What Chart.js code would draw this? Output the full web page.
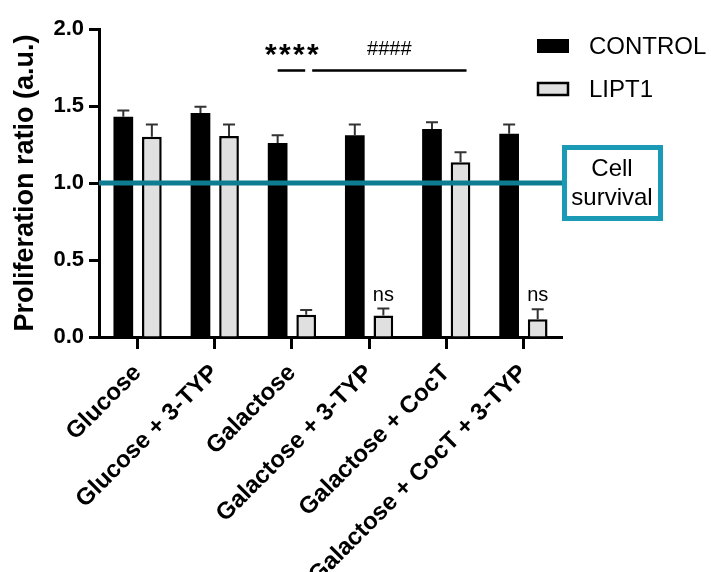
<!DOCTYPE html>
<html>
<head>
<meta charset="utf-8">
<script src="https://cdn.jsdelivr.net/npm/chart.js@4.4.0/dist/chart.umd.min.js"></script>
<style>
  body { margin: 0; background: #fff; }
  #wrap { width: 711px; height: 572px; }
</style>
</head>
<body>
<div id="wrap"><canvas id="myChart" width="711" height="572"></canvas></div>
<script>
var categories = ["Glucose", "Glucose + 3-TYP", "Galactose", "Galactose + 3-TYP", "Galactose + CocT", "Galactose + CocT + 3-TYP"];
var control = [1.43, 1.455, 1.26, 1.31, 1.35, 1.32];
var controlErr = [0.04, 0.04, 0.05, 0.07, 0.045, 0.06];
var lipt1 = [1.30, 1.305, 0.145, 0.14, 1.135, 0.115];
var lipt1Err = [0.08, 0.075, 0.03, 0.045, 0.065, 0.065];
var nsIndex = [3, 5];
var survivalLevel = 1.0;
var sigLevel = 1.73;

var FONT = "'Liberation Sans', Arial, sans-serif";

var extras = {
  id: 'extras',
  afterDatasetsDraw: function (chart) {
    var c = chart.ctx;
    var y = chart.scales.y;
    var area = chart.chartArea;
    var m0 = chart.getDatasetMeta(0).data;
    var m1 = chart.getDatasetMeta(1).data;
    c.save();

    // error bars
    c.strokeStyle = '#333';
    c.lineWidth = 2;
    [[m0, control, controlErr], [m1, lipt1, lipt1Err]].forEach(function (s) {
      s[0].forEach(function (bar, i) {
        var top = y.getPixelForValue(s[1][i] + s[2][i]);
        var base = y.getPixelForValue(s[1][i]);
        c.beginPath();
        c.moveTo(bar.x, base);
        c.lineTo(bar.x, top);
        c.moveTo(bar.x - 6, top);
        c.lineTo(bar.x + 6, top);
        c.stroke();
      });
    });

    // cell survival line + box
    var ly = y.getPixelForValue(survivalLevel);
    c.strokeStyle = '#0e7d92';
    c.lineWidth = 5;
    c.beginPath();
    c.moveTo(area.left, ly);
    c.lineTo(area.right, ly);
    c.stroke();
    c.strokeStyle = '#1b9ab5';
    c.lineWidth = 5;
    c.strokeRect(area.right + 2.5, 147.5, 96, 71);
    c.fillStyle = '#000';
    c.font = '24px ' + FONT;
    c.textAlign = 'center';
    c.textBaseline = 'middle';
    c.fillText('Cell', area.right + 50, 169);
    c.fillText('survival', area.right + 50, 198);

    // significance
    var sy = y.getPixelForValue(sigLevel);
    c.strokeStyle = '#000';
    c.lineWidth = 2.5;
    c.beginPath();
    c.moveTo(m0[2].x, sy);
    c.lineTo(m1[2].x - 1, sy);
    c.moveTo(m1[2].x + 6, sy);
    c.lineTo(m1[4].x + 6, sy);
    c.stroke();
    c.font = 'bold 30px ' + FONT;
    var sx = (m0[2].x + m1[2].x) / 2;
    for (var k = 0; k < 4; k++) {
      c.fillText('*', sx - 21 + k * 14, 56);
    }
    c.font = '20px ' + FONT;
    c.fillText('####', (m1[2].x + m1[4].x) / 2 + 6, 49);
    nsIndex.forEach(function (i) {
      c.fillText('ns', m1[i].x, 295);
    });

    // legend
    c.fillStyle = '#000';
    c.fillRect(537, 39, 32, 14);
    c.fillStyle = '#e0e0e0';
    c.fillRect(538, 83, 30, 12);
    c.strokeStyle = '#000';
    c.lineWidth = 2.5;
    c.strokeRect(538, 83, 30, 12);
    c.fillStyle = '#000';
    c.font = '24px ' + FONT;
    c.textAlign = 'left';
    c.fillText('CONTROL', 589, 47);
    c.fillText('LIPT1', 589, 90);
    c.restore();
  }
};

var ctx = document.getElementById('myChart').getContext('2d');
var myChart = new Chart(ctx, {
  type: 'bar',
  data: {
    labels: categories,
    datasets: [{
      label: 'CONTROL',
      data: control,
      backgroundColor: '#000',
      borderWidth: 0,
      barPercentage: 0.69,
      categoryPercentage: 0.74
    }, {
      label: 'LIPT1',
      data: lipt1,
      backgroundColor: '#e0e0e0',
      borderColor: '#000',
      borderWidth: 2.5,
      barPercentage: 0.69,
      categoryPercentage: 0.74
    }]
  },
  options: {
    responsive: false,
    animation: false,
    layout: { padding: { top: 29, right: 149, left: 8, bottom: 0 } },
    plugins: {
      legend: { display: false },
      tooltip: { enabled: false }
    },
    scales: {
      x: {
        grid: { offset: false, drawOnChartArea: false, tickLength: 12, tickWidth: 3, tickColor: '#000' },
        border: { color: '#000', width: 3 },
        ticks: {
          autoSkip: false,
          maxRotation: 45,
          minRotation: 45,
          color: '#000',
          padding: 10,
          font: { family: FONT, size: 24, weight: 'bold' }
        },
        afterFit: function (s) { s.height = 235; }
      },
      y: {
        min: 0,
        max: 2,
        grid: { drawOnChartArea: false, tickLength: 10, tickWidth: 3, tickColor: '#000' },
        border: { color: '#000', width: 3 },
        ticks: {
          stepSize: 0.5,
          color: '#000',
          padding: 5,
          font: { family: FONT, size: 22, weight: 'bold' },
          callback: function (v) { return v.toFixed(1); }
        },
        title: {
          display: true,
          text: 'Proliferation ratio (a.u.)',
          color: '#000',
          padding: { top: 1, bottom: 0 },
          font: { family: FONT, size: 27, weight: 'bold' }
        },
        afterFit: function (s) { s.width = 91; }
      }
    }
  },
  plugins: [extras]
});
</script>
</body>
</html>
